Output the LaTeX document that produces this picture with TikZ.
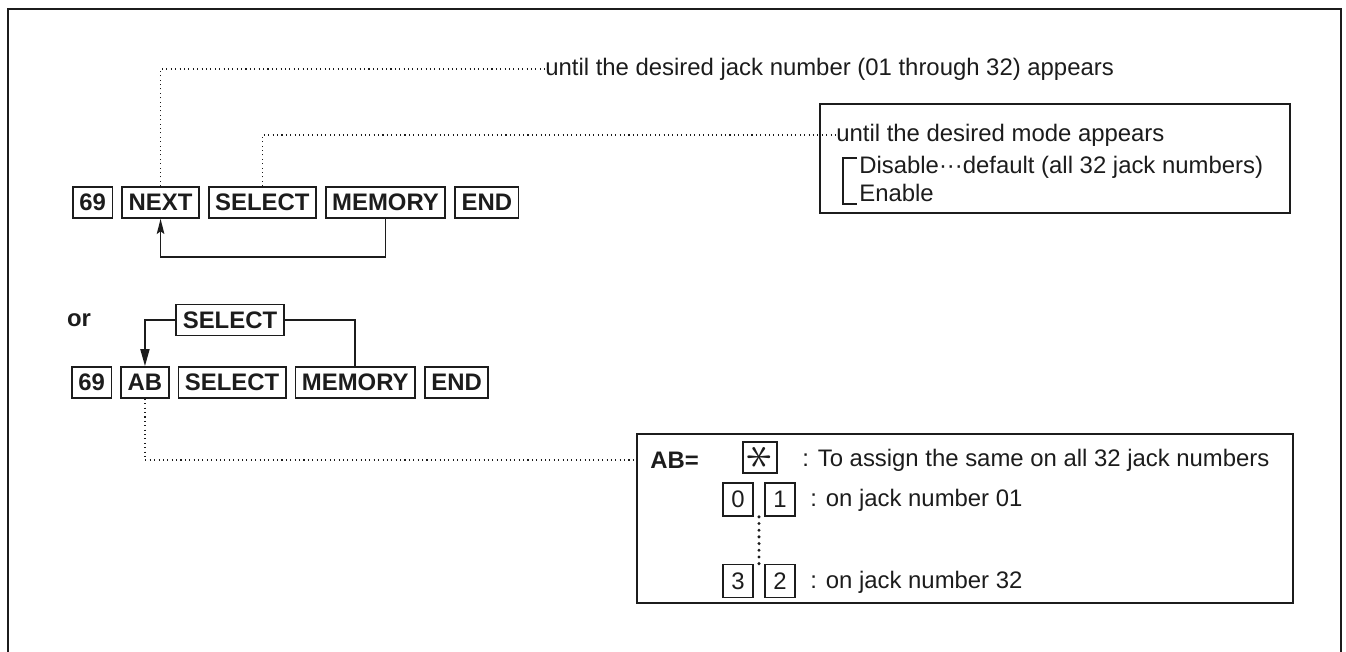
\documentclass[tikz,border=0pt]{standalone}
\usepackage{fontspec}
\setmainfont{Liberation Sans}
\usepackage{graphicx}
\usetikzlibrary{arrows.meta,positioning,calc}
\definecolor{ink}{HTML}{1C1C1C}
\tikzset{key/.style={draw=ink,line width=1pt,font=\fontsize{13.6}{16}\selectfont\bfseries,text=ink,minimum height=0.62cm,inner xsep=0.13cm,inner ysep=0pt},
  digit/.style={key,font=\fontsize{13.6}{16}\selectfont,minimum width=0.6cm,minimum height=0.66cm,inner xsep=0pt},
  note/.style={font=\fontsize{13.6}{16}\selectfont,text=ink,inner sep=0pt,anchor=west},
  panel/.style={draw=ink,line width=1.2pt},
  wire/.style={draw=ink,line width=1pt},
  repeatarr/.style={wire,-{Stealth[length=0.3cm,width=0.15cm,inset=0.05cm]}},
  selarr/.style={wire,-{Triangle[length=0.34cm,width=0.18cm]}},
  guide/.style={draw=ink,line width=0.65pt,dash pattern=on 0.6pt off 1.9pt},
  bigdots/.style={draw=ink,line width=1.9pt,line cap=round,dash pattern=on 0pt off 3.8pt}}

\begin{document}
\begin{tikzpicture}[x=0.02cm,y=-0.02cm]
\useasboundingbox (0,0) rectangle (1346,652);
\draw[panel] (8,670) -- (8,9) -- (1341,9) -- (1341,670);

\node[key,anchor=west] (k69a) at (72,202.5) {69};
\node[key,right=0.16cm of k69a] (next) {NEXT};
\node[key,right=0.16cm of next] (sela) {SELECT};
\node[key,right=0.16cm of sela] (mema) {MEMORY};
\node[key,right=0.16cm of mema] (enda) {END};

\node[note] (jacktxt) at (545,69) {until the desired jack number (01 through 32) appears};
\node[panel,minimum width=9.4cm,minimum height=2.18cm] (modebox) at (1055,158.5) {};
\node[note] (modetxt) at (836,135) {until the desired mode appears};
\node[note] (disable) at (859,167) {Disable···default (all 32 jack numbers)};
\node[note] (enable) at (859,193) {Enable};
\draw[wire,line width=1.2pt] ($(disable.west)+(-2,-9)$) -- ++(-14,0) |- ($(enable.west)+(-2,11)$);

\draw[guide] (next.north) |- (jacktxt.west);
\draw[guide] (sela.north) |- (modetxt.west);
\draw[repeatarr] (mema.south) -- (mema.south |- 0,257) -| (next.south);

\node[font=\fontsize{13.6}{16}\selectfont\bfseries,text=ink] (ortxt) at (79,320) {or};
\node[key] (selup) at (230,320) {SELECT};

\node[key,anchor=west] (k69b) at (71,382.5) {69};
\node[key,right=0.16cm of k69b] (ab) {AB};
\node[key,right=0.16cm of ab] (selb) {SELECT};
\node[key,right=0.16cm of selb] (memb) {MEMORY};
\node[key,right=0.16cm of memb] (endb) {END};
\draw[selarr] (selup.west) -| (ab.north);
\draw[wire] (selup.east) -| (memb.north);

\node[panel,minimum width=13.12cm,minimum height=3.38cm] (abbox) at (965,518.5) {};
\node[note,font=\fontsize{13.6}{16}\selectfont\bfseries] (abeq) at (650,460) {AB=};
\node[digit,minimum width=0.68cm,minimum height=0.62cm] (star) at (760,457.5) {\scalebox{2.1}{\rotatebox{90}{$\ast$}}};
\node[note] (alltxt) at (802,460) {: To assign the same on all 32 jack numbers};
\node[digit] (d0) at (738,499.5) {0};
\node[digit] (d1) at (780,499.5) {1};
\node[note] (first) at (810,500) {: on jack number 01};
\node[digit] (d3) at (738,581) {3};
\node[digit] (d2) at (780,581) {2};
\node[note] (last) at (810,582) {: on jack number 32};
\draw[bigdots] ($(d0.south east)!0.5!(d1.south west)$) -- ($(d3.north east)!0.5!(d2.north west)$);
\draw[guide] (ab.south) |- (abbox.west |- abeq.west);
\end{tikzpicture}
\end{document}
